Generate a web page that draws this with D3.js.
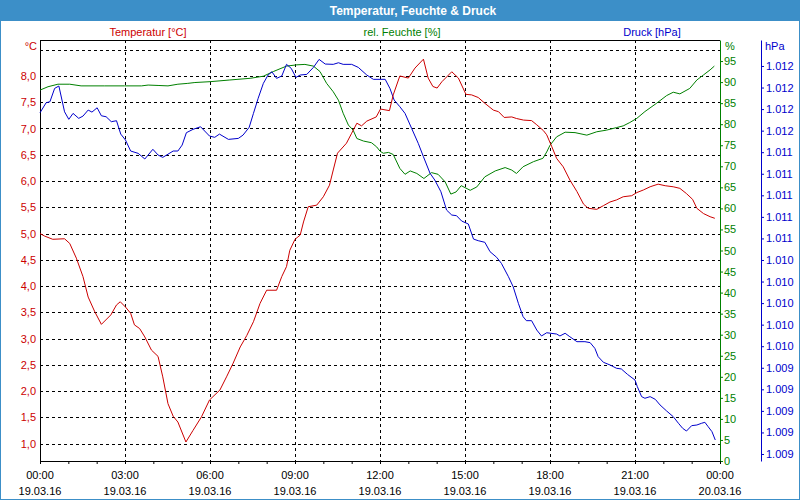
<!DOCTYPE html>
<html>
<head>
<meta charset="utf-8">
<script src="https://cdn.jsdelivr.net/npm/d3@7"></script>
<style>
  html, body { margin: 0; padding: 0; background: #fff; }
  svg { display: block; font-family: "Liberation Sans", Arial, sans-serif; }
</style>
</head>
<body>
<svg id="chart" width="800" height="500"></svg>
<script>
// ---------------- DATA ----------------
const chartTitle = "Temperatur, Feuchte & Druck";
const seriesNames = ["Temperatur [°C]", "rel. Feuchte [%]", "Druck [hPa]"];
const unitLabels = ["°C", "%", "hPa"];

// time in minutes since 19.03.16 00:00
const tempMinutes = [0,10,27,52,63,77,91,102,116,130,150,162,170,181,192,200,211,222,236,250,260,271,282,292,309,324,342,359,381,395,409,424,438,452,466,480,501,512,522,529,540,551,558,568,586,600,613,621,630,649,660,671,681,692,712,721,740,748,762,780,794,812,822,832,841,851,872,886,902,914,928,942,960,971,983,999,1009,1024,1041,1052,1066,1073,1084,1094,1108,1122,1137,1151,1161,1179,1193,1207,1221,1235,1253,1264,1278,1292,1309,1324,1341,1355,1369,1382,1391,1405,1419,1429];
const tempValues = [5.00,4.95,4.89,4.90,4.81,4.53,4.18,3.79,3.51,3.27,3.45,3.64,3.70,3.60,3.48,3.26,3.19,3.03,2.78,2.66,2.27,1.76,1.52,1.41,1.03,1.25,1.51,1.83,2.02,2.27,2.53,2.84,3.06,3.32,3.67,3.92,3.92,4.18,4.37,4.68,4.89,4.97,5.22,5.51,5.54,5.70,5.92,6.21,6.53,6.72,6.91,7.10,7.05,7.14,7.22,7.37,7.34,7.64,8.00,7.96,8.15,8.32,7.96,7.80,7.77,7.89,8.08,7.96,7.65,7.64,7.59,7.48,7.35,7.32,7.21,7.22,7.19,7.16,7.15,7.07,6.96,6.88,6.65,6.43,6.27,6.02,5.80,5.56,5.48,5.46,5.53,5.60,5.64,5.70,5.72,5.78,5.83,5.89,5.94,5.91,5.89,5.86,5.76,5.65,5.48,5.38,5.32,5.29];

const humMinutes = [0,17,38,63,87,137,179,215,229,250,271,292,313,328,360,402,445,473,494,522,544,561,579,593,607,621,632,642,653,663,671,685,702,713,720,727,738,748,762,773,784,798,813,829,843,858,870,881,892,911,925,942,964,985,999,1009,1023,1045,1065,1073,1080,1094,1112,1133,1158,1179,1200,1221,1235,1249,1264,1281,1306,1327,1341,1355,1376,1391,1405,1419,1428];
const humValues = [88.1,88.9,89.5,89.5,89.1,89.1,89.1,89.1,89.3,89.2,89.1,89.5,89.7,89.9,90.1,90.5,90.9,91.4,92.5,93.8,94.1,94.2,93.8,92.5,89.7,87.7,85.7,82.6,79.8,78.6,76.6,76.0,75.6,74.6,73.6,73.1,73.3,72.8,69.5,68.1,68.9,68.3,67.1,68.5,68.1,66.3,63.4,63.9,65.4,64.3,65.1,67.5,68.9,69.7,69.1,68.3,69.9,71.1,71.9,73.4,75.0,77.0,78.1,78.0,77.4,78.2,78.6,79.2,79.6,80.4,81.4,83.0,85.0,86.8,87.6,87.2,88.5,90.5,91.7,92.9,93.8];

const pressMinutes = [0,13,21,31,40,52,61,70,82,91,102,110,121,130,140,151,162,171,181,192,208,222,239,250,260,282,292,301,310,324,340,359,370,380,399,420,430,443,452,462,473,483,491,501,512,522,532,542,551,565,579,591,604,621,632,642,660,674,692,706,731,741,750,762,773,787,801,812,826,836,849,861,872,882,893,907,918,928,942,953,967,977,992,1002,1013,1023,1030,1041,1052,1062,1073,1094,1101,1112,1122,1137,1154,1165,1175,1182,1193,1207,1221,1231,1244,1260,1265,1274,1281,1292,1303,1313,1327,1341,1352,1361,1369,1380,1391,1401,1408,1415,1423,1430];
const pressValues = [1011.766,1011.859,1011.868,1011.992,1012.014,1011.775,1011.705,1011.760,1011.714,1011.735,1011.791,1011.772,1011.812,1011.738,1011.729,1011.683,1011.692,1011.568,1011.513,1011.411,1011.389,1011.337,1011.427,1011.374,1011.352,1011.411,1011.411,1011.466,1011.581,1011.612,1011.636,1011.550,1011.538,1011.568,1011.519,1011.528,1011.559,1011.631,1011.760,1011.900,1012.039,1012.116,1012.146,1012.085,1012.107,1012.215,1012.178,1012.094,1012.116,1012.122,1012.187,1012.261,1012.218,1012.215,1012.230,1012.215,1012.215,1012.187,1012.116,1012.076,1012.076,1011.992,1011.884,1011.822,1011.760,1011.621,1011.482,1011.358,1011.204,1011.142,1011.033,1010.863,1010.817,1010.811,1010.761,1010.734,1010.594,1010.579,1010.564,1010.477,1010.425,1010.369,1010.245,1010.152,1009.998,1009.874,1009.837,1009.837,1009.750,1009.695,1009.725,1009.713,1009.695,1009.720,1009.688,1009.642,1009.642,1009.633,1009.580,1009.503,1009.451,1009.426,1009.395,1009.389,1009.339,1009.286,1009.224,1009.132,1009.117,1009.132,1009.107,1009.055,1008.999,1008.946,1008.885,1008.838,1008.813,1008.863,1008.869,1008.885,1008.894,1008.853,1008.807,1008.730];

// axis tick values / labels
const timeTickMinutes = [0,180,360,540,720,900,1080,1260,1440];
const timeTickLabels = ["00:00","03:00","06:00","09:00","12:00","15:00","18:00","21:00","00:00"];
const dateTickLabels = ["19.03.16","19.03.16","19.03.16","19.03.16","19.03.16","19.03.16","19.03.16","19.03.16","20.03.16"];
const tempTicks = [1.0,1.5,2.0,2.5,3.0,3.5,4.0,4.5,5.0,5.5,6.0,6.5,7.0,7.5,8.0];
const tempGrid = [1.0,1.5,2.0,2.5,3.0,3.5,4.0,4.5,5.0,5.5,6.0,6.5,7.0,7.5,8.0,8.5];
const humTicks = [0,5,10,15,20,25,30,35,40,45,50,55,60,65,70,75,80,85,90,95];
const pressTicks = [1008.6,1008.8,1009.0,1009.2,1009.4,1009.6,1009.8,1010.0,1010.2,1010.4,1010.6,1010.8,1011.0,1011.2,1011.4,1011.6,1011.8,1012.0,1012.2];

// ---------------- STYLE ----------------
const C = { frame: "#3c8fc8", red: "#cc0000", green: "#008000", blue: "#0000cc", grid: "#000" };
const plotLeft = 40, plotRight = 720, plotTop = 40, plotBottom = 461, pressAxisX = 761;

const de = d3.formatLocale({ decimal: ",", thousands: ".", grouping: [3], currency: ["", " €"] });
const fTemp = de.format(".1f");
const fPress = de.format(",.0f");

const svg = d3.select("#chart");

// frame + title bar
svg.append("rect").attr("x", 0.5).attr("y", 0.5).attr("width", 799).attr("height", 499)
  .attr("fill", "#fff").attr("stroke", C.frame).attr("stroke-width", 1);
svg.append("rect").attr("x", 0).attr("y", 0).attr("width", 800).attr("height", 21).attr("fill", C.frame);
svg.append("text").attr("x", 413).attr("y", 15).attr("text-anchor", "middle")
  .attr("fill", "#fff").attr("font-weight", "bold").attr("font-size", 12).text(chartTitle);

// scales
const x = d3.scaleLinear().domain([0, 1440]).range([plotLeft, plotRight]);
const yT = d3.scaleLinear().domain([0.668, 8.685]).range([plotBottom, plotTop]);
const yH = d3.scaleLinear().domain([0, 100]).range([plotBottom, plotTop]);
const yP = d3.scaleLinear().domain([1008.535, 1012.441]).range([plotBottom, plotTop]);

// grid
const grid = svg.append("g").attr("stroke", C.grid).attr("stroke-dasharray", "3,3").attr("shape-rendering", "crispEdges");
grid.selectAll("line.h").data(tempGrid).join("line").attr("class", "h")
  .attr("x1", plotLeft).attr("x2", plotRight).attr("y1", d => Math.round(yT(d)) + 0.5).attr("y2", d => Math.round(yT(d)) + 0.5);
grid.selectAll("line.v").data(timeTickMinutes.slice(1, -1)).join("line").attr("class", "v")
  .attr("y1", plotTop).attr("y2", plotBottom).attr("x1", d => Math.round(x(d)) + 0.5).attr("x2", d => Math.round(x(d)) + 0.5);

// top border
svg.append("line").attr("x1", plotLeft).attr("x2", plotRight).attr("y1", plotTop + 0.5).attr("y2", plotTop + 0.5)
  .attr("stroke", "#000").attr("shape-rendering", "crispEdges");

// axes
const axT = svg.append("g").attr("transform", `translate(${plotLeft},0)`)
  .call(d3.axisLeft(yT).tickValues(tempTicks).tickFormat(fTemp).tickSize(0).tickPadding(4));
axT.select(".domain").attr("stroke", "#000");
axT.selectAll("text").attr("fill", C.red).attr("font-size", 11).attr("font-family", "Liberation Sans, Arial, sans-serif");

const axH = svg.append("g").attr("transform", `translate(${plotRight},0)`)
  .call(d3.axisRight(yH).tickValues(humTicks).tickFormat(d3.format("d")).tickSize(3).tickPadding(1).tickSizeOuter(0));
axH.selectAll(".domain, line").attr("stroke", C.green);
axH.selectAll("text").attr("fill", C.green).attr("font-size", 11).attr("font-family", "Liberation Sans, Arial, sans-serif");

const axP = svg.append("g").attr("transform", `translate(${pressAxisX},0)`)
  .call(d3.axisRight(yP).tickValues(pressTicks).tickFormat(fPress).tickSize(3).tickPadding(2).tickSizeOuter(0));
axP.selectAll(".domain, line").attr("stroke", C.blue);
axP.selectAll("text").attr("fill", C.blue).attr("font-size", 11).attr("font-family", "Liberation Sans, Arial, sans-serif");

const axX = svg.append("g").attr("transform", `translate(0,${plotBottom})`)
  .call(d3.axisBottom(x).tickValues(d3.range(0, 1441, 60)).tickFormat("").tickSize(3).tickSizeOuter(0));
axX.selectAll(".domain, line").attr("stroke", "#000");

// x labels (two lines)
const xl = svg.append("g").attr("font-size", 11).attr("fill", "#000").attr("text-anchor", "middle");
xl.selectAll("text.t").data(timeTickMinutes).join("text").attr("class", "t")
  .attr("x", d => x(d)).attr("y", 479).text((d, i) => timeTickLabels[i]);
xl.selectAll("text.d").data(timeTickMinutes).join("text").attr("class", "d")
  .attr("x", d => x(d)).attr("y", 495).text((d, i) => dateTickLabels[i]);

// headers and units
const hdr = svg.append("g").attr("font-size", 11).attr("text-anchor", "middle");
hdr.append("text").attr("x", 148).attr("y", 36).attr("fill", C.red).text(seriesNames[0]);
hdr.append("text").attr("x", 402).attr("y", 36).attr("fill", C.green).text(seriesNames[1]);
hdr.append("text").attr("x", 652).attr("y", 36).attr("fill", C.blue).text(seriesNames[2]);
svg.append("text").attr("x", 37).attr("y", 50).attr("text-anchor", "end").attr("font-size", 11).attr("fill", C.red).text(unitLabels[0]);
svg.append("text").attr("x", 725).attr("y", 50).attr("font-size", 11).attr("fill", C.green).text(unitLabels[1]);
svg.append("text").attr("x", 765).attr("y", 50).attr("font-size", 11).attr("fill", C.blue).text(unitLabels[2]);

// lines
function drawLine(mins, vals, y, color) {
  const pts = mins.map((m, i) => [m, vals[i]]);
  svg.append("path").datum(pts)
    .attr("fill", "none").attr("stroke", color).attr("stroke-width", 1)
    .attr("d", d3.line().x(d => x(d[0])).y(d => y(d[1])));
}
drawLine(humMinutes, humValues, yH, C.green);
drawLine(pressMinutes, pressValues, yP, C.blue);
drawLine(tempMinutes, tempValues, yT, C.red);
</script>
</body>
</html>
